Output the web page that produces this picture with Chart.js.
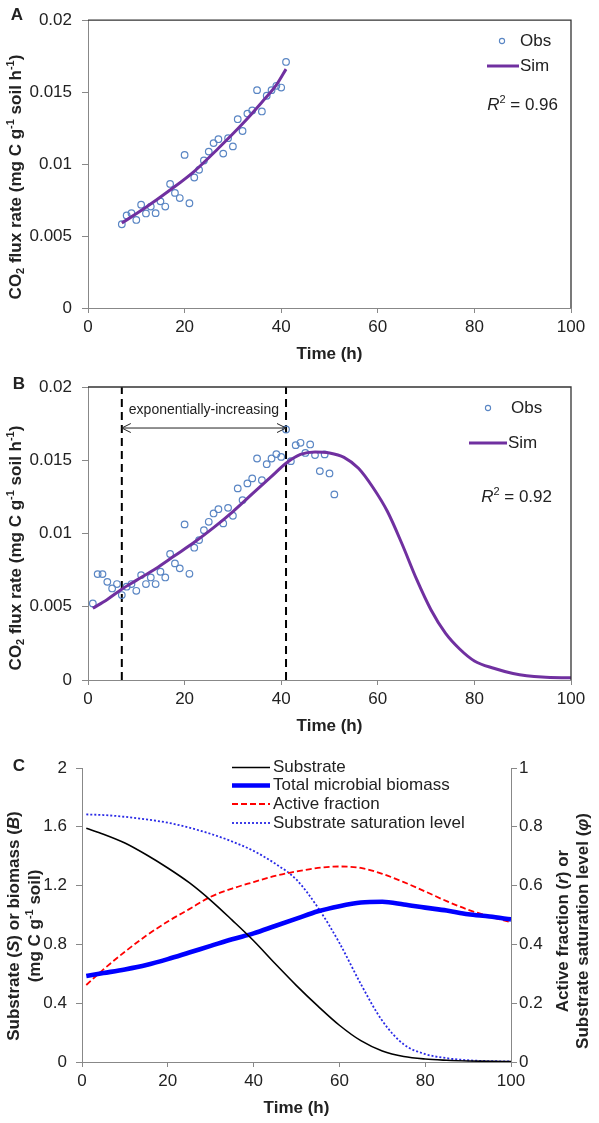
<!DOCTYPE html>
<html>
<head>
<meta charset="utf-8">
<script src="https://cdn.jsdelivr.net/npm/chart.js@4.4.1/dist/chart.umd.min.js"></script>
<style>
  html, body { margin: 0; padding: 0; background: #fff; }
  body { width: 599px; height: 1123px; position: relative; overflow: hidden; }
  canvas { position: absolute; left: 0; }
  #chartA { top: 0; }
  #chartB { top: 365px; }
  #chartC { top: 735px; }
</style>
</head>
<body>
<canvas id="chartA" width="599" height="365"></canvas>
<canvas id="chartB" width="599" height="370"></canvas>
<canvas id="chartC" width="599" height="388"></canvas>
<script>
// ── Data ──────────────────────────────────────────────────────────────────

// shared time axis
var timeTicks      = [ 0, 20, 40, 60, 80, 100 ];
var timeTickLabels = [ '0', '20', '40', '60', '80', '100' ];

// CO2 flux axis (panels A and B)
var fluxTicks      = [ 0, 0.005, 0.01, 0.015, 0.02 ];
var fluxTickLabels = [ '0', '0.005', '0.01', '0.015', '0.02' ];

// Panel A – observed (hourly) and simulated flux
var obsTimeA = [ 7, 8, 9, 10, 11, 12, 13, 14, 15, 16, 17, 18, 19, 20, 21, 22, 23, 24,
	25, 26, 27, 28, 29, 30, 31, 32, 33, 34, 35, 36, 37, 38, 39, 40, 41 ];
var obsFluxA = [ 0.00582, 0.00643, 0.00659, 0.00612, 0.00718, 0.00657, 0.00705, 0.00659,
	0.00741, 0.00705, 0.00862, 0.0080, 0.00764, 0.01064, 0.00728, 0.00907, 0.0096, 0.01025,
	0.01087, 0.01146, 0.01173, 0.01073, 0.0118, 0.01123, 0.01312, 0.0123, 0.01351, 0.01373,
	0.01514, 0.01366, 0.01475, 0.01514, 0.01544, 0.01532, 0.0171 ];
var simTimeA = [ 7, 12, 17, 22, 27, 32, 36, 39, 41 ];
var simFluxA = [ 0.0059, 0.0070, 0.0082, 0.0095, 0.0111, 0.0128, 0.0143, 0.0155, 0.0166 ];

// Panel B – observed (hourly) and simulated flux over the whole run
var obsTimeB = [ 1, 2, 3, 4, 5, 6, 7, 8, 9, 10, 11, 12, 13, 14, 15, 16, 17, 18, 19, 20,
	21, 22, 23, 24, 25, 26, 27, 28, 29, 30, 31, 32, 33, 34, 35, 36, 37, 38, 39, 40, 41,
	42, 43, 44, 45, 46, 47, 48, 49, 50, 51 ];
var obsFluxB = [ 0.00523, 0.00723, 0.00723, 0.0067, 0.00625, 0.00655, 0.0058, 0.00637,
	0.00655, 0.00609, 0.00716, 0.00655, 0.0070, 0.00655, 0.00739, 0.0070, 0.0086, 0.00796,
	0.00762, 0.01062, 0.00725, 0.00903, 0.00955, 0.01023, 0.0108, 0.01137, 0.01166, 0.01069,
	0.01175, 0.01121, 0.01308, 0.01228, 0.01342, 0.01376, 0.01512, 0.01364, 0.01473, 0.01512,
	0.01542, 0.01523, 0.0171, 0.01494, 0.01603, 0.01619, 0.0155, 0.01608, 0.01535, 0.01426,
	0.0154, 0.0141, 0.01267 ];
var simTimeB = [ 1, 4, 7, 10, 14, 18, 22, 26, 30, 34, 38, 41, 44, 47, 50, 53, 56, 59, 62,
	65, 68, 71, 74, 77, 80, 84, 88, 94, 100 ];
var simFluxB = [ 0.0049, 0.0055, 0.0062, 0.0068, 0.0076, 0.0085, 0.0094, 0.0104, 0.0115,
	0.0127, 0.0139, 0.0148, 0.0154, 0.01557, 0.0155, 0.0152, 0.01445, 0.01314, 0.0115,
	0.0093, 0.0069, 0.0048, 0.0032, 0.0021, 0.0013, 0.0008, 0.00045, 0.0002, 0.00015 ];
var phaseTimes = [ 7, 41 ];      // exponentially-increasing window
var phaseArrowLevel = 0.0172;

// Panel C – simulated pools
var massTicks      = [ 0, 0.4, 0.8, 1.2, 1.6, 2 ];
var massTickLabels = [ '0', '0.4', '0.8', '1.2', '1.6', '2' ];
var fracTicks      = [ 0, 0.2, 0.4, 0.6, 0.8, 1 ];
var fracTickLabels = [ '0', '0.2', '0.4', '0.6', '0.8', '1' ];
var timeC       = [ 1, 5, 10, 15, 20, 25, 30, 35, 40, 45, 50, 55, 60, 65, 70, 75, 80, 85, 90, 95, 100 ];
var substrateC  = [ 1.59, 1.55, 1.49, 1.41, 1.32, 1.22, 1.10, 0.965, 0.825, 0.67, 0.52, 0.38,
	0.25, 0.145, 0.075, 0.037, 0.02, 0.012, 0.007, 0.004, 0.003 ];
var biomassC    = [ 0.585, 0.605, 0.63, 0.66, 0.70, 0.745, 0.79, 0.835, 0.875, 0.925, 0.975,
	1.025, 1.06, 1.085, 1.09, 1.072, 1.05, 1.03, 1.005, 0.99, 0.97 ];
var activeC     = [ 0.262, 0.315, 0.375, 0.43, 0.478, 0.52, 0.562, 0.59, 0.612, 0.633, 0.648,
	0.66, 0.665, 0.66, 0.64, 0.612, 0.58, 0.547, 0.518, 0.495, 0.475 ];
var saturationC = [ 0.842, 0.84, 0.834, 0.825, 0.814, 0.797, 0.776, 0.75, 0.718, 0.675, 0.62,
	0.525, 0.405, 0.265, 0.14, 0.06, 0.027, 0.013, 0.006, 0.003, 0.002 ];

// ── Styles ────────────────────────────────────────────────────────────────
var FONT       = '"Liberation Sans", Arial, Helvetica, sans-serif';
var TEXT       = '#222';
var AXIS_GREY  = '#888';
var OBS_BLUE   = '#5a86c4';
var SIM_PURPLE = '#7030a0';

Chart.defaults.font.family = FONT;
Chart.defaults.font.size   = 17;
Chart.defaults.color       = TEXT;

function font( size, bold, italic ) {
	return ( italic ? 'italic ' : '' ) + ( bold ? 'bold ' : '' ) + size + 'px ' + FONT;
}

function pts( xs, ys ) {
	return xs.map( function ( x, i ) { return { x: x, y: ys[ i ] }; } );
}

// Text made of parts (sub/superscript, italic); optional rotation for axis titles.
function richText( ctx, parts, x, y, size, bold, align, rotate ) {
	var small = Math.round( size * 0.65 );
	ctx.save();
	ctx.translate( x, y );
	if ( rotate ) { ctx.rotate( -Math.PI / 2 ); }
	var widths = parts.map( function ( p ) {
		ctx.font = font( p.sub || p.sup ? small : size, bold, p.it );
		return ctx.measureText( p.t ).width;
	} );
	var total = widths.reduce( function ( a, b ) { return a + b; }, 0 );
	var cx = align === 'center' ? -total / 2 : align === 'right' ? -total : 0;
	ctx.textBaseline = 'middle';
	ctx.textAlign = 'left';
	ctx.fillStyle = TEXT;
	parts.forEach( function ( p, i ) {
		ctx.font = font( p.sub || p.sup ? small : size, bold, p.it );
		var dy = p.sub ? size * 0.3 : p.sup ? -size * 0.3 : 0;
		ctx.fillText( p.t, cx, dy );
		cx += widths[ i ];
	} );
	ctx.restore();
}

function plainText( ctx, str, x, y, size, bold, align ) {
	ctx.save();
	ctx.font = font( size, bold );
	ctx.fillStyle = TEXT;
	ctx.textAlign = align || 'left';
	ctx.textBaseline = 'middle';
	ctx.fillText( str, x, y );
	ctx.restore();
}

function hLine( ctx, x1, x2, y, color, width, dash ) {
	ctx.save();
	ctx.strokeStyle = color;
	ctx.lineWidth = width;
	ctx.setLineDash( dash || [] );
	ctx.beginPath();
	ctx.moveTo( x1, y );
	ctx.lineTo( x2, y );
	ctx.stroke();
	ctx.restore();
}

// top and right edges of the plot box (panels A, B)
function drawFrame( chart ) {
	var a = chart.chartArea, ctx = chart.ctx;
	ctx.save();
	ctx.strokeStyle = '#333';
	ctx.lineWidth = 1.3;
	ctx.beginPath();
	ctx.moveTo( a.left, a.top );
	ctx.lineTo( a.right, a.top );
	ctx.lineTo( a.right, a.bottom );
	ctx.stroke();
	ctx.restore();
}

var fluxTitle = [ { t: 'CO' }, { t: '2', sub: 1 }, { t: ' flux rate (mg C g' }, { t: '-1', sup: 1 },
	{ t: ' soil h' }, { t: '-1', sup: 1 }, { t: ')' } ];

function drawObsSimLegend( ctx, obsX, obsY, lineX1, lineX2, simY, textX, r2, r2X, r2Y ) {
	ctx.save();
	ctx.strokeStyle = OBS_BLUE;
	ctx.lineWidth = 1.1;
	ctx.beginPath();
	ctx.arc( obsX, obsY, 2.6, 0, Math.PI * 2 );
	ctx.stroke();
	ctx.restore();
	plainText( ctx, 'Obs', textX, obsY, 17 );
	hLine( ctx, lineX1, lineX2, simY, SIM_PURPLE, 3 );
	plainText( ctx, 'Sim', lineX2 + 1, simY, 17 );
	richText( ctx, [ { t: 'R', it: 1 }, { t: '2', sup: 1 }, { t: ' = ' + r2 } ], r2X, r2Y, 17, false, 'right' );
}

function decor( fn ) {
	return { id: 'decor', afterDraw: fn };
}

// ── Scales / series ───────────────────────────────────────────────────────

function timeScale( height ) {
	return {
		type : 'linear', min: 0, max: 100,
		afterBuildTicks : function ( s ) { s.ticks = timeTicks.map( function ( v ) { return { value: v }; } ); },
		ticks  : { callback: function ( v, i ) { return timeTickLabels[ i ]; }, padding: 4, maxRotation: 0, autoSkip: false },
		grid   : { drawOnChartArea: false, tickLength: 5, color: AXIS_GREY },
		border : { color: AXIS_GREY, width: 1 },
		afterFit : function ( s ) { s.height = height; }
	};
}

function valueScale( ticks, labels, max, width, position, padding ) {
	return {
		type : 'linear', position: position, min: 0, max: max,
		afterBuildTicks : function ( s ) { s.ticks = ticks.map( function ( v ) { return { value: v }; } ); },
		ticks  : { callback: function ( v, i ) { return labels[ i ]; }, padding: padding, autoSkip: false },
		grid   : { drawOnChartArea: false, tickLength: 6, color: AXIS_GREY },
		border : { color: AXIS_GREY, width: 1 },
		afterFit : function ( s ) { s.width = width; }
	};
}

function obsSeries( data ) {
	return {
		label: 'Obs', data: data, showLine: false,
		pointStyle: 'circle', pointRadius: 3.3, pointBorderWidth: 1.2,
		pointBorderColor: OBS_BLUE, pointBackgroundColor: 'rgba(255,255,255,0)'
	};
}

function simSeries( data ) {
	return {
		label: 'Sim', data: data, showLine: true, borderColor: SIM_PURPLE, borderWidth: 3,
		pointRadius: 0, cubicInterpolationMode: 'monotone', fill: false
	};
}

function baseOptions( padding, scales ) {
	return {
		responsive: false, animation: false,
		layout: { padding: padding },
		plugins: { legend: { display: false }, tooltip: { enabled: false } },
		scales: scales
	};
}

// ── Panel A ───────────────────────────────────────────────────────────────
new Chart( document.getElementById( 'chartA' ), {
	type : 'scatter',
	data : { datasets: [ simSeries( pts( simTimeA, simFluxA ) ), obsSeries( pts( obsTimeA, obsFluxA ) ) ] },
	options : baseOptions( { top: 15, right: 28, left: 0, bottom: 0 }, {
		x : timeScale( 57 ),
		y : valueScale( fluxTicks, fluxTickLabels, 0.02, 88, 'left', 10 )
	} ),
	plugins : [ decor( function ( chart ) {
		var a = chart.chartArea, ctx = chart.ctx;
		drawFrame( chart );
		plainText( ctx, 'A', 17, 15, 17, true, 'center' );
		richText( ctx, fluxTitle, 16, 177, 17, true, 'center', true );
		plainText( ctx, 'Time (h)', ( a.left + a.right ) / 2, a.bottom + 46, 17, true, 'center' );
		drawObsSimLegend( ctx, 502, 41, 487, 519, 66, 520, '0.96', 558, 105 );
	} ) ]
} );

// ── Panel B ───────────────────────────────────────────────────────────────
function phaseLine( t ) {
	return {
		label: 'phase', data: [ { x: t, y: 0 }, { x: t, y: 0.02 } ], showLine: true,
		borderColor: '#000', borderWidth: 2, borderDash: [ 8, 5 ], pointRadius: 0, tension: 0
	};
}

new Chart( document.getElementById( 'chartB' ), {
	type : 'scatter',
	data : { datasets: [
		simSeries( pts( simTimeB, simFluxB ) ),
		obsSeries( pts( obsTimeB, obsFluxB ) ),
		phaseLine( phaseTimes[ 0 ] ),
		phaseLine( phaseTimes[ 1 ] )
	] },
	options : baseOptions( { top: 22, right: 28, left: 0, bottom: 0 }, {
		x : timeScale( 55 ),
		y : valueScale( fluxTicks, fluxTickLabels, 0.02, 88, 'left', 10 )
	} ),
	plugins : [ decor( function ( chart ) {
		var a = chart.chartArea, ctx = chart.ctx;
		var x1 = chart.scales.x.getPixelForValue( phaseTimes[ 0 ] );
		var x2 = chart.scales.x.getPixelForValue( phaseTimes[ 1 ] );
		var ya = chart.scales.y.getPixelForValue( phaseArrowLevel );
		drawFrame( chart );

		// double-headed arrow over the exponential phase
		ctx.save();
		ctx.strokeStyle = '#222';
		ctx.lineWidth = 1;
		ctx.beginPath();
		ctx.moveTo( x1, ya ); ctx.lineTo( x2, ya );
		ctx.moveTo( x1 + 9, ya - 4.5 ); ctx.lineTo( x1, ya ); ctx.lineTo( x1 + 9, ya + 4.5 );
		ctx.moveTo( x2 - 9, ya - 4.5 ); ctx.lineTo( x2, ya ); ctx.lineTo( x2 - 9, ya + 4.5 );
		ctx.stroke();
		ctx.restore();
		plainText( ctx, 'exponentially-increasing', ( x1 + x2 ) / 2, ya - 18, 14, false, 'center' );

		plainText( ctx, 'B', 19, 19, 17, true, 'center' );
		richText( ctx, fluxTitle, 16, 183, 17, true, 'center', true );
		plainText( ctx, 'Time (h)', ( a.left + a.right ) / 2, a.bottom + 46, 17, true, 'center' );
		drawObsSimLegend( ctx, 488, 43, 469, 507, 78, 511, '0.92', 552, 132 );
	} ) ]
} );

// ── Panel C ───────────────────────────────────────────────────────────────
var seriesC = [
	{ label: 'Substrate', data: pts( timeC, substrateC ), yAxisID: 'y', borderColor: '#000', borderWidth: 1.6, borderDash: [] },
	{ label: 'Total microbial biomass', data: pts( timeC, biomassC ), yAxisID: 'y', borderColor: '#0000ff', borderWidth: 4.6, borderDash: [] },
	{ label: 'Active fraction', data: pts( timeC, activeC ), yAxisID: 'y1', borderColor: '#ff0000', borderWidth: 1.8, borderDash: [ 6, 3 ] },
	{ label: 'Substrate saturation level', data: pts( timeC, saturationC ), yAxisID: 'y1', borderColor: '#2a2ae6', borderWidth: 1.8, borderDash: [ 2, 2 ] }
];
seriesC.forEach( function ( s ) {
	s.showLine = true;
	s.pointRadius = 0;
	s.cubicInterpolationMode = 'monotone';
	s.fill = false;
} );

new Chart( document.getElementById( 'chartC' ), {
	type : 'scatter',
	data : { datasets: seriesC },
	options : baseOptions( { top: 33, right: 0, left: 0, bottom: 0 }, {
		x  : timeScale( 61 ),
		y  : valueScale( massTicks, massTickLabels, 2, 82, 'left', 9 ),
		y1 : valueScale( fracTicks, fracTickLabels, 1, 88, 'right', 2 )
	} ),
	plugins : [ decor( function ( chart ) {
		var a = chart.chartArea, ctx = chart.ctx;
		plainText( ctx, 'C', 19, 31, 17, true, 'center' );

		richText( ctx, [ { t: 'Substrate (' }, { t: 'S', it: 1 }, { t: ') or biomass (' }, { t: 'B', it: 1 }, { t: ')' } ],
			14, 191, 17, true, 'center', true );
		richText( ctx, [ { t: '(mg C g' }, { t: '-1', sup: 1 }, { t: ' soil)' } ], 35, 191, 17, true, 'center', true );
		richText( ctx, [ { t: 'Active fraction (' }, { t: 'r', it: 1 }, { t: ') or' } ], 563, 196, 17, true, 'center', true );
		richText( ctx, [ { t: 'Substrate saturation level (' }, { t: 'φ', it: 1 }, { t: ')' } ], 583, 196, 17, true, 'center', true );
		plainText( ctx, 'Time (h)', ( a.left + a.right ) / 2, a.bottom + 46, 17, true, 'center' );

		// legend
		var rowY = [ 32.5, 50.5, 69, 88 ];
		seriesC.forEach( function ( s, i ) {
			hLine( ctx, 232, 270, rowY[ i ], s.borderColor, s.borderWidth, s.borderDash );
			plainText( ctx, s.label, 273, rowY[ i ], 17 );
		} );
	} ) ]
} );
</script>
</body>
</html>
